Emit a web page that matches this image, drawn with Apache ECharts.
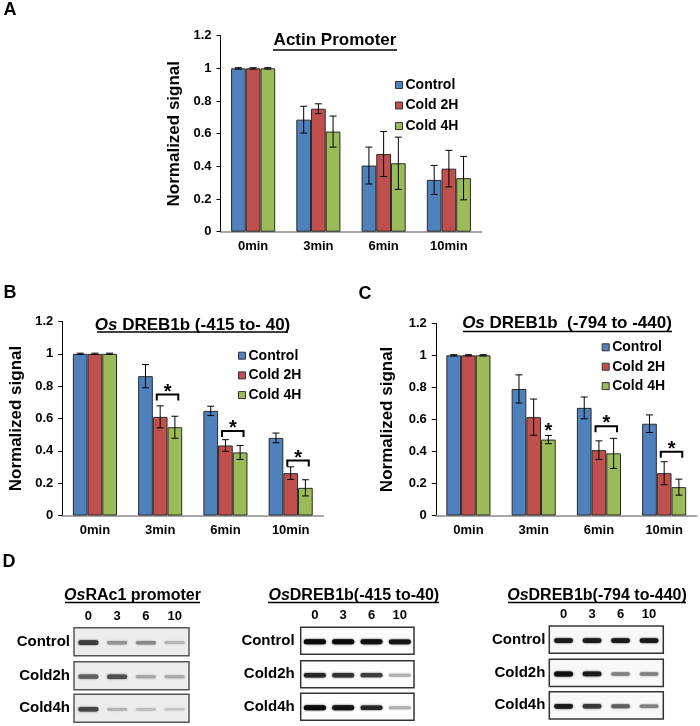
<!DOCTYPE html>
<html><head><meta charset="utf-8">
<script src="https://cdn.jsdelivr.net/npm/echarts@6/dist/echarts.min.js"></script>
<style>html,body{margin:0;padding:0;background:#fff}#c{width:700px;height:726px}</style>
</head><body><div id="c"></div>
<script>
// ---------- data ----------
const categories = ['0min', '3min', '6min', '10min'];
const seriesNames = ['Control', 'Cold 2H', 'Cold 4H'];
const yMin = 0, yMax = 1.2, yInterval = 0.2;

// Panel A: Actin promoter
const actinControl = [1, 0.686, 0.405, 0.317];
const actinCold2H = [1, 0.753, 0.476, 0.386];
const actinCold4H = [1, 0.613, 0.419, 0.328];
const actinControlErr = [0.004, 0.082, 0.113, 0.089];
const actinCold2HErr = [0.004, 0.030, 0.138, 0.112];
const actinCold4HErr = [0.004, 0.095, 0.160, 0.133];
const actinSig = [];

// Panel B: OsDREB1b (-415 to -40)
const dreb415Control = [1, 0.862, 0.647, 0.480];
const dreb415Cold2H = [1, 0.610, 0.433, 0.262];
const dreb415Cold4H = [1, 0.546, 0.390, 0.171];
const dreb415ControlErr = [0.004, 0.072, 0.029, 0.030];
const dreb415Cold2HErr = [0.004, 0.068, 0.036, 0.039];
const dreb415Cold4HErr = [0.004, 0.068, 0.043, 0.050];
// [category index, height, kind (1 = bracket Cold2H-Cold4H, 0 = star over Cold 4H)]
const dreb415Sig = [[1, 0.748, 1], [2, 0.522, 1], [3, 0.340, 1]];

// Panel C: OsDREB1b (-794 to -440)
const dreb794Control = [1, 0.790, 0.672, 0.573];
const dreb794Cold2H = [1, 0.614, 0.408, 0.264];
const dreb794Cold4H = [1, 0.474, 0.388, 0.177];
const dreb794ControlErr = [0.004, 0.088, 0.068, 0.055];
const dreb794Cold2HErr = [0.004, 0.113, 0.058, 0.072];
const dreb794Cold4HErr = [0.004, 0.026, 0.094, 0.050];
const dreb794Sig = [[1, 0.55, 0], [2, 0.557, 1], [3, 0.398, 1]];

// Panel D: gel band intensities (0 = none, 1 = darkest)
const gelLanes = ['0', '3', '6', '10'];
const gelRows = ['Control', 'Cold2h', 'Cold4h'];
const rac1Control = [0.90, 0.45, 0.50, 0.28];
const rac1Cold2h = [0.72, 0.80, 0.35, 0.33];
const rac1Cold4h = [0.85, 0.28, 0.22, 0.18];
const gel415Control = [1.00, 1.00, 0.97, 0.95];
const gel415Cold2h = [0.88, 0.82, 0.78, 0.30];
const gel415Cold4h = [1.00, 0.96, 0.88, 0.30];
const gel794Control = [0.95, 0.95, 0.95, 0.95];
const gel794Cold2h = [1.00, 0.95, 0.50, 0.50];
const gel794Cold4h = [0.95, 0.82, 0.65, 0.50];

// ---------- style / layout ----------
const FONT = '"Liberation Sans", Arial, Helvetica, sans-serif';
const COLORS = ['#4F81BD', '#C0504D', '#9BBB59'];
const BAR_W = 14.7;

const panels = [
  { values: [actinControl, actinCold2H, actinCold4H], errs: [actinControlErr, actinCold2HErr, actinCold4HErr], sig: actinSig,
    grid: { left: 220.5, top: 35.7, width: 261, height: 196 }, legend: { left: 395, top: 78 }, legendGap: 6.5, nameGap: 38 },
  { values: [dreb415Control, dreb415Cold2H, dreb415Cold4H], errs: [dreb415ControlErr, dreb415Cold2HErr, dreb415Cold4HErr], sig: dreb415Sig,
    grid: { left: 62.3, top: 321.5, width: 261, height: 194 }, legend: { left: 238, top: 348.7 }, legendGap: 5.7, nameGap: 37 },
  { values: [dreb794Control, dreb794Cold2H, dreb794Cold4H], errs: [dreb794ControlErr, dreb794Cold2HErr, dreb794Cold4HErr], sig: dreb794Sig,
    grid: { left: 435.8, top: 323.3, width: 261, height: 192.2 }, legend: { left: 601.7, top: 340.3 }, legendGap: 5.4, nameGap: 40 }
];

const gels = [
  { bands: [rac1Control, rac1Cold2h, rac1Cold4h], left: 74, width: 115, tops: [627.7, 661.7, 694.3], h: 28,
    bg: '#ececec', border: '#555', bandFrac: 0.70, light: 232, dark: 40, labelMargin: 4 },
  { bands: [gel415Control, gel415Cold2h, gel415Cold4h], left: 300.7, width: 113.3, tops: [627.3, 660.7, 693.3], h: 27,
    bg: '#fdfdfd', border: '#333', bandFrac: 0.78, light: 245, dark: 10, labelMargin: 6 },
  { bands: [gel794Control, gel794Cold2h, gel794Cold4h], left: 549.3, width: 114, tops: [626, 659.3, 691.7], h: 27.2,
    bg: '#f8f8f8', border: '#333', bandFrac: 0.66, light: 240, dark: 15, labelMargin: 4 }
];

const grids = [], xAxes = [], yAxes = [], series = [], legends = [];

function errRender(params, api) {
  const cat = api.value(0), v = api.value(1), e = api.value(2), k = api.value(3);
  const top = api.coord([cat, v + e]);
  const bot = api.coord([cat, v - e]);
  const x = top[0] + (k - 1) * BAR_W;
  const cap = 3.5;
  const st = { stroke: '#000', lineWidth: 1 };
  return { type: 'group', children: [
    { type: 'line', shape: { x1: x, y1: top[1], x2: x, y2: bot[1] }, style: st },
    { type: 'line', shape: { x1: x - cap, y1: top[1], x2: x + cap, y2: top[1] }, style: st },
    { type: 'line', shape: { x1: x - cap, y1: bot[1], x2: x + cap, y2: bot[1] }, style: st }
  ] };
}

function sigRender(params, api) {
  const cat = api.value(0), v = api.value(1), kind = api.value(2);
  const p = api.coord([cat, v]);
  const starFont = 'bold 20px ' + FONT;
  if (kind === 1) {
    const x1 = p[0] - 3.4, x2 = p[0] + BAR_W + 3.4, y = p[1];
    return { type: 'group', children: [
      { type: 'polyline', shape: { points: [[x1, y + 6], [x1, y], [x2, y], [x2, y + 6]] },
        style: { stroke: '#000', lineWidth: 2, fill: null } },
      { type: 'text', style: { text: '*', x: (x1 + x2) / 2, y: y - 2.5, align: 'center', verticalAlign: 'middle', font: starFont, fill: '#000' } }
    ] };
  }
  return { type: 'text', style: { text: '*', x: p[0] + BAR_W, y: p[1] + 4.5, align: 'center', verticalAlign: 'middle', font: starFont, fill: '#000' } };
}

panels.forEach((pn, gi) => {
  grids.push(Object.assign({ containLabel: false }, pn.grid));
  xAxes.push({
    type: 'category', gridIndex: gi, data: categories,
    axisLine: { lineStyle: { color: '#8a8a8a', width: 1.5 } },
    axisTick: { show: false },
    axisLabel: { fontWeight: 'bold', fontSize: 13, color: '#000', fontFamily: FONT, margin: 8 }
  });
  yAxes.push({
    type: 'value', gridIndex: gi, min: yMin, max: yMax, interval: yInterval,
    splitLine: { show: false },
    axisLine: { show: true, lineStyle: { color: '#000', width: 1 } },
    axisTick: { show: true, length: 4, lineStyle: { color: '#000' } },
    axisLabel: { fontWeight: 'bold', fontSize: 13, color: '#000', fontFamily: FONT, margin: 9 },
    name: 'Normalized signal', nameLocation: 'middle', nameGap: pn.nameGap,
    nameTextStyle: { fontWeight: 'bold', fontSize: 17, color: '#000', fontFamily: FONT }
  });
  seriesNames.forEach((nm, k) => {
    series.push({
      name: nm, type: 'bar', xAxisIndex: gi, yAxisIndex: gi, data: pn.values[k],
      barWidth: BAR_W, barGap: '0%',
      itemStyle: { color: COLORS[k], borderColor: '#2b2b2b', borderWidth: 1 },
      emphasis: { disabled: true }
    });
  });
  const errData = [];
  pn.values.forEach((arr, k) => arr.forEach((v, i) => errData.push([i, v, pn.errs[k][i], k])));
  series.push({
    type: 'custom', xAxisIndex: gi, yAxisIndex: gi, renderItem: errRender, data: errData,
    encode: { x: 0, y: 1 }, z: 5, clip: false, silent: true
  });
  if (pn.sig.length) {
    series.push({
      type: 'custom', xAxisIndex: gi, yAxisIndex: gi, renderItem: sigRender, data: pn.sig,
      encode: { x: 0, y: 1 }, z: 6, clip: false, silent: true
    });
  }
  legends.push({
    data: seriesNames, orient: 'vertical', left: pn.legend.left, top: pn.legend.top,
    icon: 'rect', itemWidth: 7, itemHeight: 7, itemGap: pn.legendGap, padding: 0,
    itemStyle: { borderColor: '#333', borderWidth: 1 },
    textStyle: { fontWeight: 'bold', fontSize: 14, color: '#000', fontFamily: FONT, lineHeight: 14, padding: [0, 0, 0, -2] },
    selectedMode: false
  });
});

function bandRender(g) {
  return function (params, api) {
    const lane = api.value(0), inten = api.value(2);
    const c = api.coord([lane, 0]);
    const w = api.size([1, 0])[0] * g.bandFrac;
    const h = 2 + 3 * inten;
    const gray = Math.round(g.light - (g.light - g.dark) * inten);
    const col = 'rgb(' + gray + ',' + gray + ',' + gray + ')';
    return { type: 'rect', shape: { x: c[0] - w / 2, y: c[1] - h / 2 + 1, width: w, height: h, r: h / 2 },
      style: { fill: col, shadowBlur: 2, shadowColor: col } };
  };
}

gels.forEach((g) => {
  g.bands.forEach((row, r) => {
    const gi = grids.length;
    grids.push({ left: g.left, top: g.tops[r], width: g.width, height: g.h, show: true,
      backgroundColor: g.bg, borderColor: g.border, borderWidth: 1.5 });
    xAxes.push({
      type: 'category', gridIndex: gi, data: gelLanes, position: 'top',
      axisLine: { show: false }, axisTick: { show: false }, splitLine: { show: false },
      axisLabel: { show: r === 0, fontWeight: 'bold', fontSize: 13, color: '#000', fontFamily: FONT, margin: 5 }
    });
    yAxes.push({
      type: 'category', gridIndex: gi, data: [gelRows[r]],
      axisLine: { show: false }, axisTick: { show: false }, splitLine: { show: false },
      axisLabel: { fontWeight: 'bold', fontSize: 15, color: '#000', fontFamily: FONT, margin: g.labelMargin }
    });
    series.push({
      type: 'custom', xAxisIndex: gi, yAxisIndex: gi, renderItem: bandRender(g),
      data: row.map((v, i) => [i, 0, v]), encode: { x: 0, y: 1 }, silent: true
    });
  });
});

// ---------- text decorations ----------
function txt(text, x, y, size, extra) {
  return Object.assign({ type: 'text', x: x, y: y, silent: true,
    style: { text: text, fontSize: size, fontWeight: 'bold', fontFamily: FONT, fill: '#000',
      align: 'center', verticalAlign: 'middle',
      rich: { i: { fontStyle: 'italic', fontWeight: 'bold', fontSize: size, fontFamily: FONT, fill: '#000' } } } }, extra || {});
}
function uline(x1, x2, y) {
  return { type: 'line', silent: true, shape: { x1: x1, y1: y, x2: x2, y2: y }, style: { stroke: '#000', lineWidth: 1.5 } };
}
const graphic = [
  txt('A', 10, 10, 18), txt('B', 10, 293, 18), txt('C', 365, 294, 18), txt('D', 9, 562.5, 18),
  txt('Actin Promoter', 335, 40, 17), uline(273, 397, 50),
  txt('{i|Os} DREB1b (-415 to- 40)', 192.5, 325, 17), uline(97, 288, 332),
  txt('{i|Os} DREB1b  (-794 to -440)', 567, 323.5, 17), uline(463, 672, 331.5),
  txt('{i|Os}RAc1 promoter', 132.5, 596, 16), uline(65, 200, 602.5),
  txt('{i|Os}DREB1b(-415 to-40)', 353.8, 596, 16), uline(268, 439, 602.5),
  txt('{i|Os}DREB1b(-794 to-440)', 597, 596, 16), uline(508, 686, 602.5)
];

const chart = echarts.init(document.getElementById('c'), null, { renderer: 'canvas' });
chart.setOption({
  backgroundColor: '#fff', animation: false,
  grid: grids, xAxis: xAxes, yAxis: yAxes, series: series, legend: legends, graphic: graphic
});
</script></body></html>
